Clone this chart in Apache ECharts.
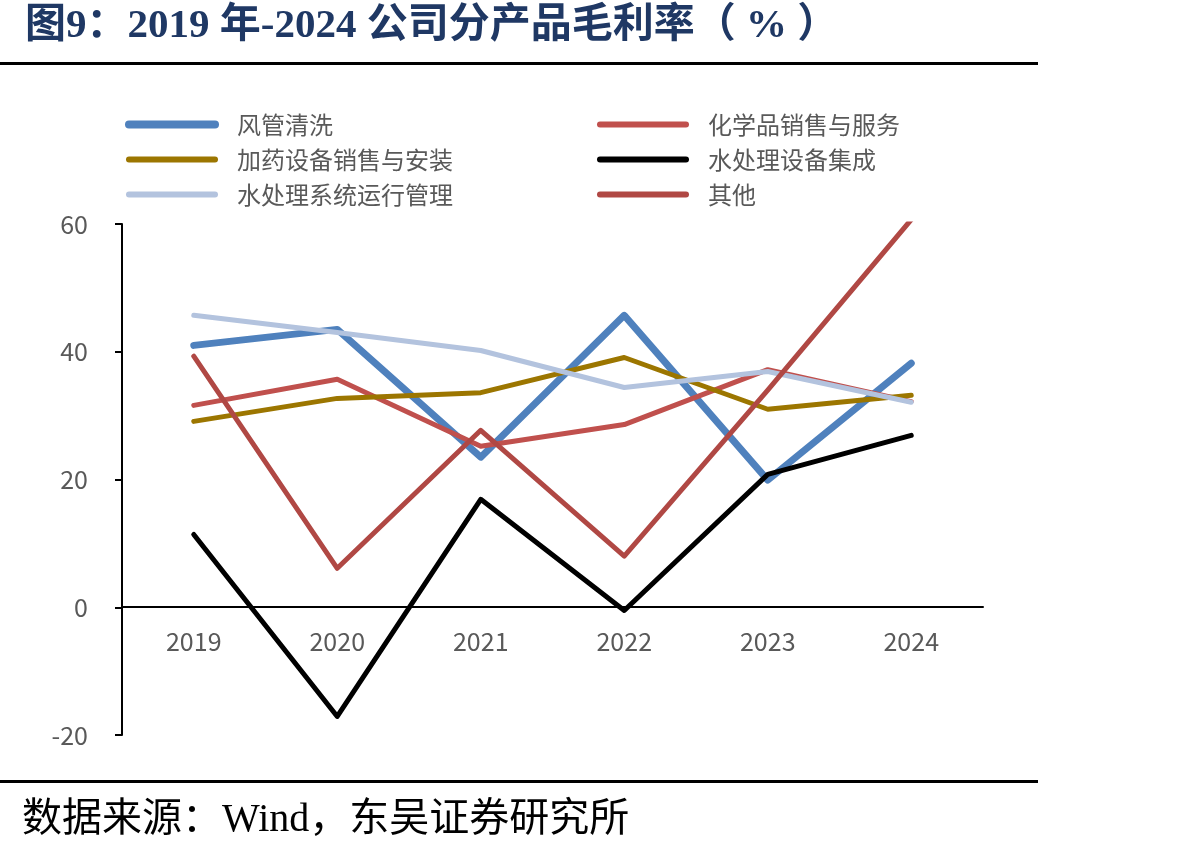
<!DOCTYPE html>
<html>
<head>
<meta charset="utf-8">
<script src="https://cdn.jsdelivr.net/npm/echarts@6/dist/echarts.min.js"></script>
<style>
  html, body { margin: 0; padding: 0; background: #fff; }
  #chart { width: 1192px; height: 856px; }
</style>
</head>
<body>
<div id="chart"></div>
<script>
const years = ['2019', '2020', '2021', '2022', '2023', '2024'];

const ductCleaning = [41.0, 43.5, 23.5, 45.7, 19.9, 38.2];
const chemicalSales = [31.6, 35.7, 25.2, 28.6, 37.2, 32.2];
const dosingEquipment = [29.1, 32.7, 33.6, 39.1, 31.0, 33.2];
const waterEquipment = [11.4, -17.1, 16.9, -0.5, 20.8, 26.9];
const waterOperation = [45.7, 43.0, 40.2, 34.4, 36.9, 32.1];
const others = [39.3, 6.1, 27.7, 8.0, 34.0, 60.7];

const yTicks = { min: -20, max: 60, interval: 20 };

const labelFont = '"Noto Sans CJK SC", "Open Sans", sans-serif';
const serifFont = '"Liberation Serif", "DejaVu Serif", "Noto Sans CJK SC", serif';

const seriesDefs = [
    { name: '风管清洗', data: ductCleaning, color: '#4F81BD', width: 7, legendWidth: 8 },
    { name: '化学品销售与服务', data: chemicalSales, color: '#C0504D', width: 5, legendWidth: 6 },
    { name: '加药设备销售与安装', data: dosingEquipment, color: '#9C7600', width: 5, legendWidth: 6 },
    { name: '水处理设备集成', data: waterEquipment, color: '#000000', width: 5, legendWidth: 6 },
    { name: '水处理系统运行管理', data: waterOperation, color: '#B3C3DE', width: 5, legendWidth: 6 },
    { name: '其他', data: others, color: '#B04844', width: 5, legendWidth: 6 },
];

const legendItem = name => {
    const s = seriesDefs.find(d => d.name === name);
    return {
        name,
        lineStyle: { width: s.legendWidth, cap: 'round' },
        itemStyle: { opacity: 0 },
    };
};

const legendBase = {
    orient: 'vertical',
    top: 107,
    itemWidth: 86,
    itemHeight: 14,
    itemGap: 10,
    itemStyle: { opacity: 0 },
    textStyle: {
        fontFamily: labelFont,
        fontSize: 24,
        color: '#595959',
        lineHeight: 25,
        padding: [0, 0, 0, 17],
    },
};

const chart = echarts.init(document.getElementById('chart'));

chart.setOption({
    animation: false,
    backgroundColor: '#fff',
    title: {
        text: '图9：2019 年-2024 公司分产品毛利率（ % ）',
        left: 20,
        top: 1,
        textStyle: {
            fontFamily: serifFont,
            fontSize: 41,
            fontWeight: 'bold',
            color: '#1F3864',
        },
    },
    graphic: [
        { type: 'rect', shape: { x: 0, y: 62, width: 1038, height: 3 }, style: { fill: '#000' } },
        { type: 'rect', shape: { x: 0, y: 780, width: 1038, height: 3 }, style: { fill: '#000' } },
        {
            type: 'text',
            left: 22,
            top: 800,
            style: {
                text: '数据来源：Wind，东吴证券研究所',
                font: '40px ' + serifFont,
                fill: '#000',
            },
        },
    ],
    legend: [
        Object.assign({}, legendBase, {
            left: 120,
            data: ['风管清洗', '加药设备销售与安装', '水处理系统运行管理'].map(legendItem),
        }),
        Object.assign({}, legendBase, {
            left: 592,
            data: ['化学品销售与服务', '水处理设备集成', '其他'].map(legendItem),
        }),
    ],
    grid: {
        left: 122,
        right: 209,
        top: 224,
        bottom: 121,
        containLabel: false,
    },
    xAxis: {
        type: 'category',
        data: years,
        boundaryGap: true,
        offset: -128,
        axisLine: { onZero: false, lineStyle: { color: '#000', width: 2 } },
        axisTick: { show: false },
        axisLabel: {
            margin: 22,
            fontFamily: labelFont,
            fontSize: 25,
            color: '#595959',
        },
        splitLine: { show: false },
    },
    yAxis: {
        type: 'value',
        min: yTicks.min,
        max: yTicks.max,
        interval: yTicks.interval,
        axisLine: { show: true, lineStyle: { color: '#000', width: 2 } },
        axisTick: { show: true, inside: false, length: 7, lineStyle: { color: '#000', width: 2 } },
        axisLabel: {
            margin: 34,
            fontFamily: labelFont,
            fontSize: 25,
            color: '#595959',
        },
        splitLine: { show: false },
    },
    series: seriesDefs.map((s, i) => ({
        name: s.name,
        type: 'line',
        data: s.data,
        symbol: 'none',
        showSymbol: false,
        clip: true,
        z: 2 + i,
        color: s.color,
        lineStyle: { color: s.color, width: s.width, cap: 'round', join: 'round' },
    })),
});
</script>
</body>
</html>
